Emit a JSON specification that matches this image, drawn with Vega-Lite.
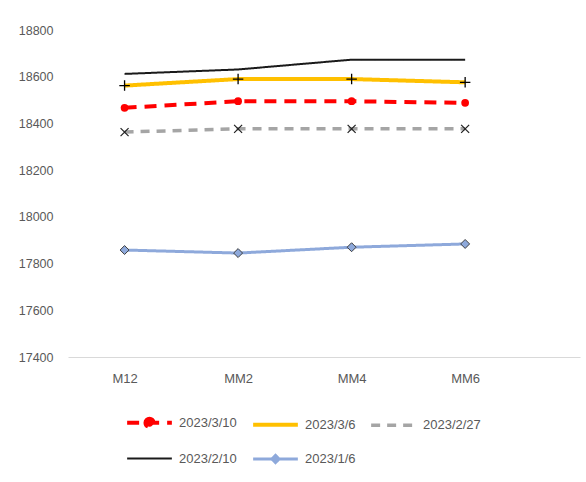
{
  "$schema": "https://vega.github.io/schema/vega-lite/v6.json",
  "autosize": "none",
  "width": 512,
  "height": 327,
  "padding": {"left": 68, "top": 30, "right": 6, "bottom": 125},
  "background": "white",
  "config": {
    "view": {"stroke": null},
    "font": "Liberation Sans"
  },
  "data": {
    "values": [
      {"series": "2023/3/10", "cat": "M12", "value": 18467},
      {"series": "2023/3/10", "cat": "MM2", "value": 18495},
      {"series": "2023/3/10", "cat": "MM4", "value": 18495},
      {"series": "2023/3/10", "cat": "MM6", "value": 18488},
      {"series": "2023/3/6", "cat": "M12", "value": 18562},
      {"series": "2023/3/6", "cat": "MM2", "value": 18590},
      {"series": "2023/3/6", "cat": "MM4", "value": 18590},
      {"series": "2023/3/6", "cat": "MM6", "value": 18576},
      {"series": "2023/2/27", "cat": "M12", "value": 18363},
      {"series": "2023/2/27", "cat": "MM2", "value": 18377},
      {"series": "2023/2/27", "cat": "MM4", "value": 18377},
      {"series": "2023/2/27", "cat": "MM6", "value": 18377},
      {"series": "2023/2/10", "cat": "M12", "value": 18612},
      {"series": "2023/2/10", "cat": "MM2", "value": 18631},
      {"series": "2023/2/10", "cat": "MM4", "value": 18673},
      {"series": "2023/2/10", "cat": "MM6", "value": 18673},
      {"series": "2023/1/6", "cat": "M12", "value": 17858},
      {"series": "2023/1/6", "cat": "MM2", "value": 17845},
      {"series": "2023/1/6", "cat": "MM4", "value": 17870},
      {"series": "2023/1/6", "cat": "MM6", "value": 17884}
    ]
  },
  "encoding": {
    "x": {
      "field": "cat", "type": "ordinal", "sort": ["M12", "MM2", "MM4", "MM6"],
      "scale": {"type": "point", "padding": 0.755, "align": 0.33},
      "axis": {
        "title": null, "labelAngle": 0, "ticks": false, "domainColor": "#D9D9D9", "domainWidth": 1,
        "labelColor": "#595959", "labelFontSize": 13, "labelPadding": 15, "grid": false
      }
    },
    "y": {
      "field": "value", "type": "quantitative",
      "scale": {"domain": [17400, 18800], "nice": false, "zero": false},
      "axis": {
        "title": null, "values": [17400, 17600, 17800, 18000, 18200, 18400, 18600, 18800],
        "format": "d",
        "domain": false, "ticks": false, "grid": false, "labelColor": "#595959",
        "labelFontSize": 12.5, "labelPadding": 15
      }
    }
  },
  "layer": [
    {
      "mark": {"type": "line", "strokeCap": "butt"},
      "encoding": {
        "color": {
          "field": "series", "type": "nominal",
          "scale": {
            "domain": ["2023/3/10", "2023/3/6", "2023/2/27", "2023/2/10", "2023/1/6"],
            "range": ["#FF0000", "#FFC000", "#A5A5A5", "#1A1A1A", "#8EA9DB"]
          },
          "legend": {
            "title": null, "orient": "none", "legendX": 57, "legendY": 368, "columns": 3,
            "direction": "horizontal",
            "symbolSize": 2000, "symbolStrokeWidth": 4, "labelFontSize": 13,
            "labelColor": "#595959", "labelOffset": 5, "columnPadding": 8, "rowPadding": -9,
            "encode": {
              "symbols": {
                "update": {
                  "shape": {"signal": "datum.value === '2023/3/10' ? 'M-1,0H1M-0.18,0A0.18,0.18 0 1,1 0.18,0A0.18,0.18 0 1,1 -0.18,0' : datum.value === '2023/1/6' ? 'M-1,0H-0.16M0.16,0H1M0,-0.16L0.16,0L0,0.16L-0.16,0Z' : 'M-1,0H1'"},
                  "fill": {"signal": "datum.value === '2023/3/10' ? '#FF0000' : datum.value === '2023/1/6' ? '#8EA9DB' : 'transparent'"},
                  "strokeDash": {"signal": "datum.value === '2023/3/10' ? [15, 6] : datum.value === '2023/2/27' ? [8, 8] : [1, 0]"},
                  "strokeWidth": {"signal": "datum.value === '2023/2/10' ? 2 : 4"}
                }
              }
            }
          }
        },
        "strokeDash": {
          "field": "series", "type": "nominal",
          "scale": {
            "domain": ["2023/3/10", "2023/3/6", "2023/2/27", "2023/2/10", "2023/1/6"],
            "range": [[12, 8], [1, 0], [9, 7], [1, 0], [1, 0]]
          },
          "legend": null
        },
        "strokeWidth": {
          "field": "series", "type": "nominal",
          "scale": {
            "type": "ordinal",
            "domain": ["2023/3/10", "2023/3/6", "2023/2/27", "2023/2/10", "2023/1/6"],
            "range": [4, 4, 3.5, 2, 3]
          },
          "legend": null
        }
      }
    },
    {
      "transform": [{"filter": "datum.series === '2023/3/10'"}],
      "mark": {"type": "point", "shape": "circle", "filled": true, "color": "#FF0000", "size": 60, "opacity": 1}
    },
    {
      "transform": [{"filter": "datum.series === '2023/3/6'"}],
      "mark": {"type": "point", "shape": "M-1,0H1M0,-1V1", "filled": false, "stroke": "#000000", "strokeWidth": 1.3, "size": 110, "opacity": 1}
    },
    {
      "transform": [{"filter": "datum.series === '2023/2/27'"}],
      "mark": {"type": "point", "shape": "M-1,-1L1,1M-1,1L1,-1", "filled": false, "stroke": "#202020", "strokeWidth": 1.2, "size": 64, "opacity": 1}
    },
    {
      "transform": [{"filter": "datum.series === '2023/1/6'"}],
      "mark": {"type": "point", "shape": "diamond", "filled": true, "fill": "#8EA9DB", "stroke": "#404040", "strokeWidth": 1, "size": 80, "opacity": 1}
    }
  ]
}
